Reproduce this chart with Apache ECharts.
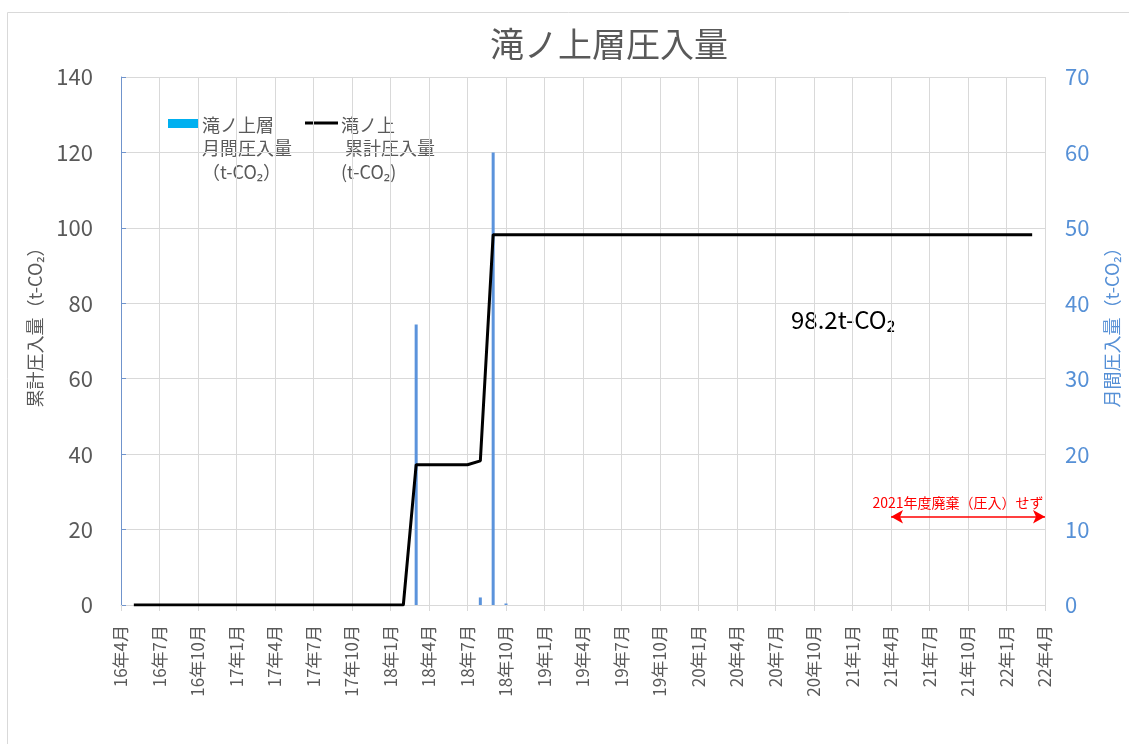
<!DOCTYPE html>
<html>
<head>
<meta charset="utf-8">
<script src="https://cdn.jsdelivr.net/npm/echarts@6/dist/echarts.min.js"></script>
<style>
html,body{margin:0;padding:0;background:#fff;overflow:hidden;}
#chart{width:1129px;height:744px;}
</style>
</head>
<body>
<div id="chart"></div>
<script>
// Month categories 16年4月 .. 22年4月
var categories = [];
(function(){
  var y = 16, m = 4;
  for (var i = 0; i < 73; i++) {
    categories.push(y + '年' + m + '月');
    m++; if (m > 12) { m = 1; y++; }
  }
})();

// Cumulative injection (t-CO2), left axis
var cumulative = [
  null,0,0,0,0,0,0,0,0,0,0,0,
  0,0,0,0,0,0,0,0,0,0,0,37.2,
  37.2,37.2,37.2,37.2,38.2,98.2,98.2,98.2,98.2,98.2,98.2,98.2,
  98.2,98.2,98.2,98.2,98.2,98.2,98.2,98.2,98.2,98.2,98.2,98.2,
  98.2,98.2,98.2,98.2,98.2,98.2,98.2,98.2,98.2,98.2,98.2,98.2,
  98.2,98.2,98.2,98.2,98.2,98.2,98.2,98.2,98.2,98.2,98.2,98.2,
  null
];

// Monthly injection (t-CO2), right axis
var monthly = [
  0,0,0,0,0,0,0,0,0,0,0,0,
  0,0,0,0,0,0,0,0,0,0,0,37.2,
  0,0,0,0,1.0,60.0,0.2,0,0,0,0,0,
  0,0,0,0,0,0,0,0,0,0,0,0,
  0,0,0,0,0,0,0,0,0,0,0,0,
  0,0,0,0,0,0,0,0,0,0,0,0,
  0
];

var leftTicks = { min: 0, max: 140, interval: 20 };
var rightTicks = { min: 0, max: 70, interval: 10 };
var noDisposalRange = ['21年4月', '22年4月'];
var noDisposalLevel = 11.7;

var FONT = '"Noto Sans CJK JP", "Noto Sans", sans-serif';
var GRAY = '#595959';
var BLUE = '#5690D6';
var GRID = '#D9D9D9';

var chart = echarts.init(document.getElementById('chart'));
chart.setOption({
  animation: false,
  textStyle: { fontFamily: FONT },
  title: {
    text: '滝ノ上層圧入量',
    left: 604, top: 22, textAlign: 'center',
    textStyle: { fontSize: 34, fontWeight: 'normal', color: GRAY, fontFamily: FONT }
  },
  grid: { left: 121, right: 84, top: 77, bottom: 139, containLabel: false, outerBoundsMode: 'none' },
  xAxis: {
    type: 'category',
    data: categories,
    boundaryGap: false,
    axisLine: { lineStyle: { color: GRID, width: 1 } },
    axisTick: { interval: 2, length: 6, lineStyle: { color: GRID } },
    axisLabel: { interval: 2, rotate: 90, fontSize: 17, color: GRAY, margin: 20, fontFamily: FONT },
    splitLine: { show: true, interval: 2, lineStyle: { color: GRID, width: 1 } }
  },
  yAxis: [
    {
      type: 'value', min: leftTicks.min, max: leftTicks.max, interval: leftTicks.interval,
      name: '累計圧入量（t-CO₂）', nameLocation: 'middle', nameRotate: 90, nameGap: 77,
      nameTextStyle: { fontSize: 18, color: GRAY, fontFamily: FONT, padding: [0, 0, 0, 36] },
      axisLine: { show: true, lineStyle: { color: '#7094CC', width: 1 } },
      axisTick: { show: true, inside: true, length: 5, lineStyle: { color: '#7094CC' } },
      axisLabel: { fontSize: 22, color: GRAY, margin: 28, fontFamily: FONT },
      splitLine: { show: true, lineStyle: { color: GRID, width: 1 } }
    },
    {
      type: 'value', min: rightTicks.min, max: rightTicks.max, interval: rightTicks.interval,
      name: '月間圧入量（t-CO₂）', nameLocation: 'middle', nameRotate: 90, nameGap: 58,
      nameTextStyle: { fontSize: 18, color: BLUE, fontFamily: FONT, padding: [0, 0, 0, 36] },
      axisLine: { show: false },
      axisTick: { show: false },
      axisLabel: { fontSize: 22, color: BLUE, margin: 20, fontFamily: FONT },
      splitLine: { show: false }
    }
  ],
  series: [
    {
      name: '滝ノ上層 月間圧入量',
      type: 'bar',
      yAxisIndex: 1,
      data: monthly,
      barWidth: 3,
      itemStyle: { color: '#5B93DB' },
      markLine: {
        silent: true,
        symbol: ['arrow', 'arrow'],
        symbolSize: [10, 12],
        lineStyle: { color: '#FF0000', width: 1.5, type: 'solid' },
        label: {
          show: true, position: 'middle', color: '#FF0000', fontSize: 14,
          fontFamily: FONT, distance: 7, offset: [-10, 0],
          formatter: '2021年度廃棄（圧入）せず'
        },
        data: [[
          { coord: [noDisposalRange[0], noDisposalLevel] },
          { coord: [noDisposalRange[1], noDisposalLevel] }
        ]]
      }
    },
    {
      name: '滝ノ上 累計圧入量',
      type: 'line',
      yAxisIndex: 0,
      data: cumulative,
      symbol: 'none',
      lineStyle: { color: '#000000', width: 3 },
      itemStyle: { color: '#000000' }
    }
  ],
  graphic: [
    { type: 'rect', shape: { x: 7.5, y: 12.5, width: 1300, height: 900 }, style: { fill: 'none', stroke: GRID, lineWidth: 1 }, silent: true, z: -1 },
    { type: 'rect', shape: { x: 168, y: 119, width: 30, height: 9 }, style: { fill: '#00B0F0' } },
    { type: 'text', left: 202, top: 113, style: { text: '滝ノ上層\n月間圧入量\n（t-CO₂）', fontSize: 18, lineHeight: 23.5, fill: GRAY, fontFamily: FONT } },
    { type: 'line', shape: { x1: 305, y1: 123, x2: 338, y2: 123 }, style: { stroke: '#000', lineWidth: 3 } },
    { type: 'text', left: 341, top: 113, style: { text: '滝ノ上\n 累計圧入量\n(t-CO₂)', fontSize: 18, lineHeight: 23.5, fill: GRAY, fontFamily: FONT } },
    { type: 'text', left: 791, top: 308, style: { text: '98.2t-CO₂', fontSize: 24, fill: '#000', fontFamily: FONT } }
  ]
});
</script>
</body>
</html>
